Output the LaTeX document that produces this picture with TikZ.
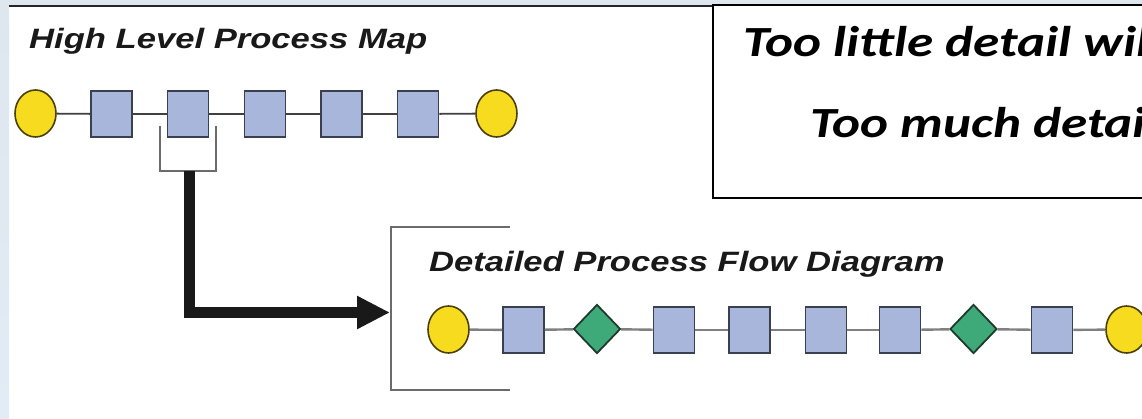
\documentclass[tikz,border=0pt]{standalone}
\usepackage{fontspec}
\usetikzlibrary{shapes.geometric,arrows.meta}
\newfontfamily\arialfont{Liberation Sans}
\newfontfamily\calfont{Carlito}

\definecolor{startend}{HTML}{F6DB1F}
\definecolor{startendline}{HTML}{4A4008}
\definecolor{stepfill}{HTML}{A9B6DC}
\definecolor{stepline}{HTML}{3B4050}
\definecolor{decfill}{HTML}{3FAA79}
\definecolor{decline}{HTML}{203A2C}
\definecolor{slideblue}{HTML}{E2ECF6}
\definecolor{slidetop}{HTML}{DEE6EE}

\tikzset{
  x=1pt, y=-1pt,
  terminal/.style={ellipse, draw=startendline, fill=startend, line width=1.6pt,
                   minimum width=41pt, minimum height=47pt, inner sep=0pt},
  stepbox/.style={rectangle, draw=stepline, fill=stepfill, line width=1.8pt,
                  minimum width=41pt, minimum height=46pt, inner sep=0pt},
  decision/.style={diamond, draw=decline, fill=decfill, line width=1.8pt,
                   minimum width=47pt, minimum height=49pt, inner sep=0pt},
  hilink/.style={draw=black!75, line width=1.8pt},
  detlink/.style={draw=black!50, line width=2.4pt},
  framing/.style={draw=black!58, line width=2pt},
  bigarrow/.style={draw=black!90, line width=11pt, line join=miter,
                   -{Triangle[length=33pt,width=31pt]}},
  heading/.style={anchor=base west, inner sep=0pt, text=black!90},
  remark/.style={anchor=base west, inner sep=0pt, text=black}
}

\begin{document}
\begin{tikzpicture}
  \useasboundingbox (0,0) rectangle (1142,419);

  % slide background
  \fill[white] (0,0) rectangle (1142,419);
  \shade[top color=slidetop, bottom color=slideblue] (0,0) rectangle (9,419);
  \fill[slidetop] (0,0) rectangle (1142,5);
  \draw[black!85, line width=2pt] (9,6) -- (713,6);

  % message box
  \draw[black, line width=2pt, fill=white] (1160,5) -- (713,5) -- (713,198) -- (1160,198);
  \node[remark] (msgA) at (743,57)
    {\scalebox{1.236}[1]{\fontsize{43}{43}\selectfont\calfont\bfseries\itshape Too little detail will}};
  \node[remark] (msgB) at (810,138)
    {\scalebox{1.236}[1]{\fontsize{43}{43}\selectfont\calfont\bfseries\itshape Too much detail}};

  % high level map
  \node[heading] (hltitle) at (29,49)
    {\scalebox{1.236}[1]{\fontsize{28}{28}\selectfont\arialfont\bfseries\itshape High Level Process Map}};

  \node[terminal] (h0) at (35.5,113.5) {};
  \node[stepbox]  (h1) at (111.5,114) {};
  \node[stepbox]  (h2) at (188,114) {};
  \node[stepbox]  (h3) at (265,114) {};
  \node[stepbox]  (h4) at (341.5,114) {};
  \node[stepbox]  (h5) at (418,114) {};
  \node[terminal] (h6) at (496.5,113.5) {};
  \foreach \a/\b in {h0/h1,h1/h2,h2/h3,h3/h4,h4/h5,h5/h6}
    \draw[hilink] (\a) -- (\b);

  % bracket under the expanded step
  \draw[framing, line width=1.6pt] (160,126) -- (160,171) -- (216,171) -- (216,126);
  \coordinate (brk) at (189,171);

  % detailed flow frame
  \draw[framing] (510,227) -- (391,227) -- (391,390) -- (510,390);
  \coordinate (entry) at (390,312.5);
  \coordinate (bend) at (189,312.5);

  \draw[bigarrow] (brk) -- (bend) -- (entry);

  \node[heading] (dttitle) at (429,272)
    {\scalebox{1.236}[1]{\fontsize{28}{28}\selectfont\arialfont\bfseries\itshape Detailed Process Flow Diagram}};

  \node[terminal] (d0) at (448.5,329.5) {};
  \node[stepbox]  (d1) at (523.5,330) {};
  \node[decision] (d2) at (597,329) {};
  \node[stepbox]  (d3) at (674,330) {};
  \node[stepbox]  (d4) at (749.5,330) {};
  \node[stepbox]  (d5) at (826,330) {};
  \node[stepbox]  (d6) at (900,330) {};
  \node[decision] (d7) at (973.5,329) {};
  \node[stepbox]  (d8) at (1052,330) {};
  \node[terminal] (d9) at (1126.5,329.5) {};
  \foreach \a/\b in {d0/d1,d1/d2,d2/d3,d3/d4,d4/d5,d5/d6,d6/d7,d7/d8,d8/d9}
    \draw[detlink] (\a) -- (\b);
\end{tikzpicture}
\end{document}
